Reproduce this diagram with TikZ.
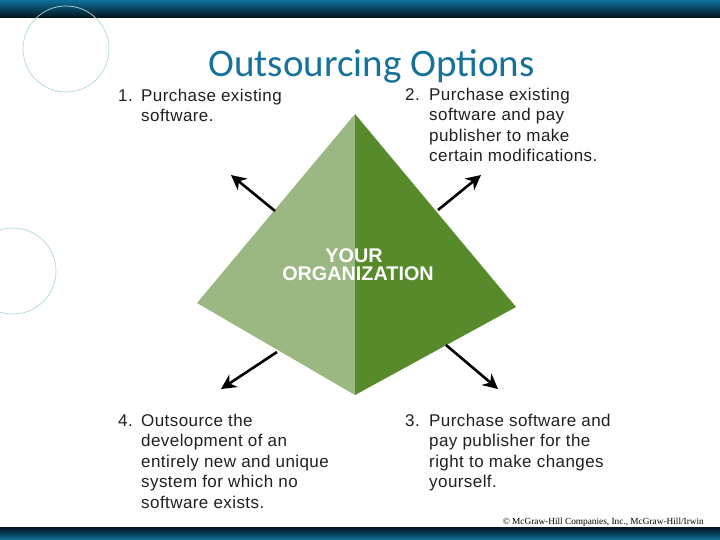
\documentclass[tikz,border=0pt]{standalone}
\usepackage{fontspec}
\setmainfont{Liberation Sans}
\newfontfamily\itemfont[LetterSpace=2.5]{Liberation Sans}
\newfontfamily\titlefont{Carlito}
\newfontfamily\footfont{Liberation Serif}
\usetikzlibrary{arrows.meta}
\definecolor{barteal}{HTML}{0F719B}
\definecolor{bardark}{HTML}{03131C}
\definecolor{titleteal}{HTML}{16729A}
\definecolor{ringblue}{HTML}{B4D6E0}
\definecolor{lightgreen}{HTML}{9CB882}
\definecolor{darkgreen}{HTML}{578A2B}
\definecolor{textgray}{HTML}{231F20}
\newcommand{\itemlines}[1]{\begin{tabular}[t]{@{}l@{}}#1\end{tabular}}
\tikzset{
  itemnum/.style={anchor=base west, inner sep=0pt, text=textgray, font=\itemfont\fontsize{17}{20.5}\selectfont},
  itemtext/.style={anchor=base west, inner sep=0pt, text=textgray, font=\itemfont\fontsize{17}{20.5}\selectfont},
  outarrow/.style={line width=2.6pt, -{Stealth[length=15pt,width=15pt]}},
  ring/.style={draw=ringblue, line width=0.7pt},
  orglabel/.style={anchor=base, inner sep=0pt, text=white, font=\bfseries\fontsize{19.8}{20}\selectfont}
}
\begin{document}
\begin{tikzpicture}[x=1pt,y=-1pt]
\useasboundingbox (0,0) rectangle (720,540);
\fill[white] (0,0) rectangle (720,540);
% bars
\shade[top color=barteal, bottom color=bardark] (0,0) rectangle (720,17.5);
\shade[top color=bardark, bottom color=barteal] (0,527) rectangle (720,540);
% rings
\draw[ring] (66,49) circle[radius=43];
\draw[ring] (13,271) circle[radius=43];
% title
\node[anchor=base, inner sep=0pt, text=titleteal, font=\titlefont\fontsize{39}{44}\selectfont] (title) at (371.5,77) {Outsourcing Options};
% pyramid
\coordinate (apex) at (355,114);
\coordinate (lft) at (197,303);
\coordinate (rgt) at (516,307);
\coordinate (bot) at (355,395);
\fill[lightgreen] (apex) -- (lft) -- (bot) -- cycle;
\fill[darkgreen] (apex) -- (rgt) -- (bot) -- cycle;
\node[orglabel] (your) at (354,262.5) {YOUR};
\node[orglabel] (org) at (358,280.5) {ORGANIZATION};
% arrows
\coordinate (ulS) at (275,211);
\coordinate (ulE) at (231,175);
\coordinate (urS) at (438,210);
\coordinate (urE) at (481,175);
\coordinate (llS) at (277,352);
\coordinate (llE) at (221,389);
\coordinate (lrS) at (446,345);
\coordinate (lrE) at (498,389);
\draw[outarrow] (ulS) -- (ulE);
\draw[outarrow] (urS) -- (urE);
\draw[outarrow] (llS) -- (llE);
\draw[outarrow] (lrS) -- (lrE);
% items
\node[itemnum] (n1) at (118,101.5) {1.};
\node[itemtext] (t1) at (141,101.5) {\itemlines{Purchase existing\\software.}};
\node[itemnum] (n2) at (405,100.5) {2.};
\node[itemtext] (t2) at (429,100.5) {\itemlines{Purchase existing\\software and pay\\publisher to make\\certain modifications.}};
\node[itemnum] (n4) at (118,426) {4.};
\node[itemtext] (t4) at (141,426) {\itemlines{Outsource the\\development of an\\entirely new and unique\\system for which no\\software exists.}};
\node[itemnum] (n3) at (405,426) {3.};
\node[itemtext] (t3) at (429,426) {\itemlines{Purchase software and\\pay publisher for the\\right to make changes\\yourself.}};
% footer
\node[anchor=base east, inner sep=0pt, font=\footfont\fontsize{9.3}{10}\selectfont] (copy) at (704,524) {\textcopyright\ McGraw-Hill Companies, Inc., McGraw-Hill/Irwin};
\end{tikzpicture}
\end{document}
